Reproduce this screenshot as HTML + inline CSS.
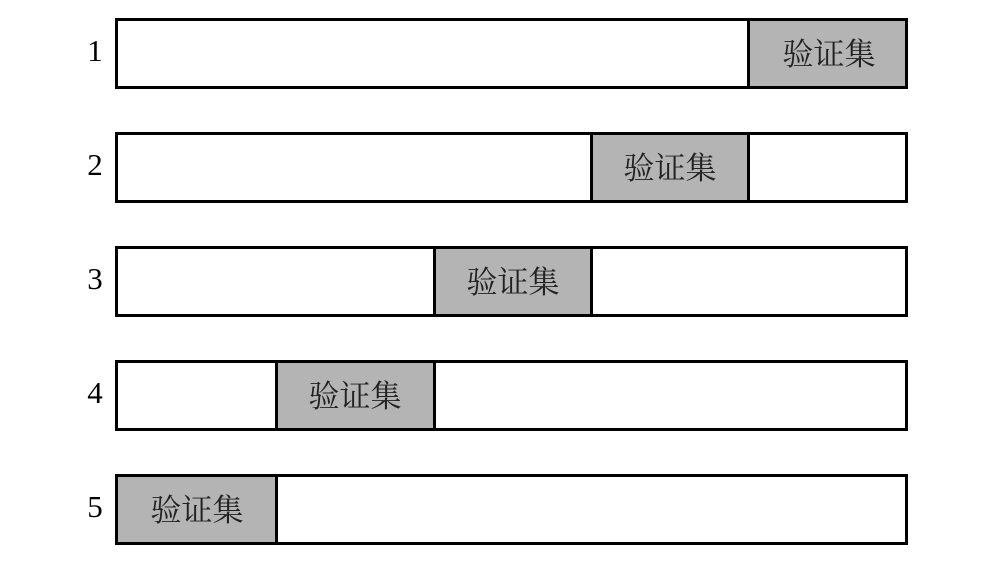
<!DOCTYPE html>
<html><head><meta charset="utf-8"><style>
body{margin:0;background:#fff;width:1000px;height:562px;overflow:hidden}
</style></head><body>
<svg width="1000" height="562" xmlns="http://www.w3.org/2000/svg" font-family="Liberation Serif, serif">
<g stroke="#000" stroke-width="3">
<rect x="116.5" y="19.5" width="790" height="68" fill="#fff"/>
<rect x="748.5" y="19.5" width="158" height="68" fill="#b4b4b4"/>
<rect x="116.5" y="133.5" width="790" height="68" fill="#fff"/>
<rect x="591.5" y="133.5" width="157" height="68" fill="#b4b4b4"/>
<rect x="116.5" y="247.5" width="790" height="68" fill="#fff"/>
<rect x="434.5" y="247.5" width="157" height="68" fill="#b4b4b4"/>
<rect x="116.5" y="361.5" width="790" height="68" fill="#fff"/>
<rect x="276.5" y="361.5" width="158" height="68" fill="#b4b4b4"/>
<rect x="116.5" y="475.5" width="790" height="68" fill="#fff"/>
<rect x="116.5" y="475.5" width="160" height="68" fill="#b4b4b4"/>
</g>
<g font-size="31" fill="#000" text-anchor="middle">
<text x="95" y="61">1</text>
<text x="95" y="175">2</text>
<text x="95" y="289">3</text>
<text x="95" y="403">4</text>
<text x="95" y="517">5</text>
</g>
<g font-size="31" fill="#222" text-anchor="middle" font-family="Noto Serif CJK SC, Noto Sans CJK SC, serif">
<text x="829" y="65">验证集</text>
<text x="670" y="179">验证集</text>
<text x="513" y="293">验证集</text>
<text x="355" y="407">验证集</text>
<text x="197" y="521">验证集</text>
</g>
</svg>
</body></html>
